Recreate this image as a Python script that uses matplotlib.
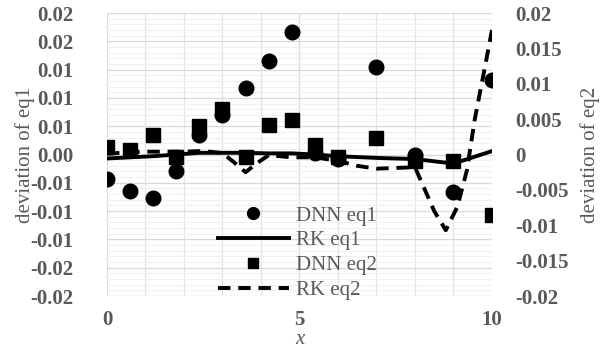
import numpy as np
import matplotlib.pyplot as plt
from matplotlib.lines import Line2D
from matplotlib.ticker import FixedLocator, FixedFormatter, MultipleLocator

plt.rcParams['font.family'] = ['Liberation Serif', 'DejaVu Serif']

# DNN predictions (markers)
x_dnn = [0, 0.6, 1.2, 1.8, 2.4, 3.0, 3.6, 4.2, 4.8, 5.4, 6.0, 7.0, 8.0, 9.0, 10.0]
dnn_eq1 = [-0.0044, -0.0064, -0.0077, -0.0030, 0.0035, 0.0070, 0.0117, 0.0166, 0.0217,
           0.0002, -0.0008, 0.0155, 0.0000, -0.0066, 0.0132]
dnn_eq2 = [0.0010, 0.0007, 0.0028, -0.0003, 0.0040, 0.0064, -0.0003, 0.0042, 0.0049,
           0.0013, -0.0003, 0.0023, -0.0009, -0.0009, -0.0086]

# RK reference solutions (lines)
x_rk1 = [0, 0.6, 1.2, 1.8, 2.4, 3.0, 3.6, 4.2, 4.8, 5.4, 6.0, 7.0, 8.0, 9.0, 10.0]
rk_eq1 = [-0.0007, -0.0005, -0.0003, 0.0000, 0.0003, 0.0003, 0.0003, 0.0002, 0.0002,
          0.0000, -0.0003, -0.0006, -0.0008, -0.0016, 0.0006]
x_rk2 = [0, 0.5, 1.0, 1.5, 2.0, 2.5, 3.0, 3.3, 3.6, 3.9, 4.2, 4.8, 5.4, 6.0, 6.5, 7.0,
         7.5, 8.0, 8.5, 8.8, 9.1, 9.35, 9.55, 9.8, 10.0]
rk_eq2 = [0.0001, 0.0003, 0.0004, 0.0004, 0.0004, 0.0005, 0.0002, -0.0011, -0.0025,
          -0.0012, -0.0001, -0.0004, -0.0004, -0.0009, -0.0016, -0.0020, -0.0019,
          -0.0018, -0.0080, -0.0107, -0.0074, -0.0022, 0.0049, 0.0119, 0.0176]

left_ticks = [-0.025, -0.02, -0.015, -0.01, -0.005, 0, 0.005, 0.01, 0.015, 0.02, 0.025]
left_labels = ['-0.02', '-0.02', '-0.01', '-0.01', '-0.01', '0.00',
               '0.01', '0.01', '0.01', '0.02', '0.02']
right_ticks = [-0.02, -0.015, -0.01, -0.005, 0, 0.005, 0.01, 0.015, 0.02]
right_labels = ['-0.02', '-0.015', '-0.01', '-0.005', '0', '0.005', '0.01', '0.015', '0.02']
x_ticks = [0, 5, 10]

grey = '#595959'

fig = plt.figure(figsize=(6.03, 3.48), dpi=100)
ax = fig.add_axes([0.1774, 0.1494, 0.6385, 0.8132])
ax2 = ax.twinx()

ax.set_xlim(0, 10)
ax.set_ylim(-0.025, 0.025)
ax2.set_ylim(-0.02, 0.02)

ax.yaxis.set_major_locator(FixedLocator(left_ticks))
ax.yaxis.set_major_formatter(FixedFormatter(left_labels))
ax.yaxis.set_minor_locator(MultipleLocator(0.001))
ax2.yaxis.set_major_locator(FixedLocator(right_ticks))
ax2.yaxis.set_major_formatter(FixedFormatter(right_labels))
ax.xaxis.set_major_locator(FixedLocator(x_ticks))
ax.xaxis.set_minor_locator(MultipleLocator(1))

ax.grid(which='minor', axis='y', color='#F0F0F0', lw=0.8)
ax.grid(which='major', axis='y', color='#D9D9D9', lw=0.9)
ax.grid(which='minor', axis='x', color='#E3E3E3', lw=0.9)
ax.grid(which='major', axis='x', color='#D9D9D9', lw=0.9)
ax.set_axisbelow(True)

for a in (ax, ax2):
    for s in a.spines.values():
        s.set_visible(False)
    a.tick_params(which='both', length=0, labelcolor=grey, labelsize=15)
    for lab in a.get_yticklabels() + a.get_xticklabels():
        lab.set_fontweight('bold')

ax.tick_params(axis='y', pad=24)
ax.tick_params(axis='x', pad=10)
ax2.tick_params(axis='y', pad=17)

ax.plot(x_dnn, dnn_eq1, 'o', color='black', ms=10.5, zorder=3)
ax.plot(x_rk1, rk_eq1, '-', color='black', lw=2.8, zorder=4)
ax2.plot(x_dnn, dnn_eq2, 's', color='black', ms=10, zorder=3)
ax2.plot(x_rk2, rk_eq2, '--', color='black', lw=2.8, dashes=(3.2, 2.0), zorder=4)

ax.set_xlabel('x', style='italic', color=grey, fontsize=15, labelpad=0)
ax.set_ylabel('deviation of eq1', color=grey, fontsize=15, labelpad=-3)
ax2.set_ylabel('deviation of eq2', color=grey, fontsize=15, rotation=90, labelpad=8)

handles = [Line2D([], [], ls='none', marker='o', color='black', ms=8.5),
           Line2D([], [], ls='-', color='black', lw=2.8),
           Line2D([], [], ls='none', marker='s', color='black', ms=7),
           Line2D([], [], ls='--', color='black', lw=2.8, dashes=(3.2, 2.0))]
leg = ax2.legend(handles, ['DNN eq1', 'RK eq1', 'DNN eq2', 'RK eq2'],
                 loc='upper left', bbox_to_anchor=(0.3615, 0.408),
                 bbox_transform=fig.transFigure, frameon=False, fontsize=15,
                 handlelength=3.4, handletextpad=0.35, labelspacing=0.25,
                 borderpad=0, borderaxespad=0)
for t in leg.get_texts():
    t.set_color(grey)

plt.savefig('out.png', dpi=100)
